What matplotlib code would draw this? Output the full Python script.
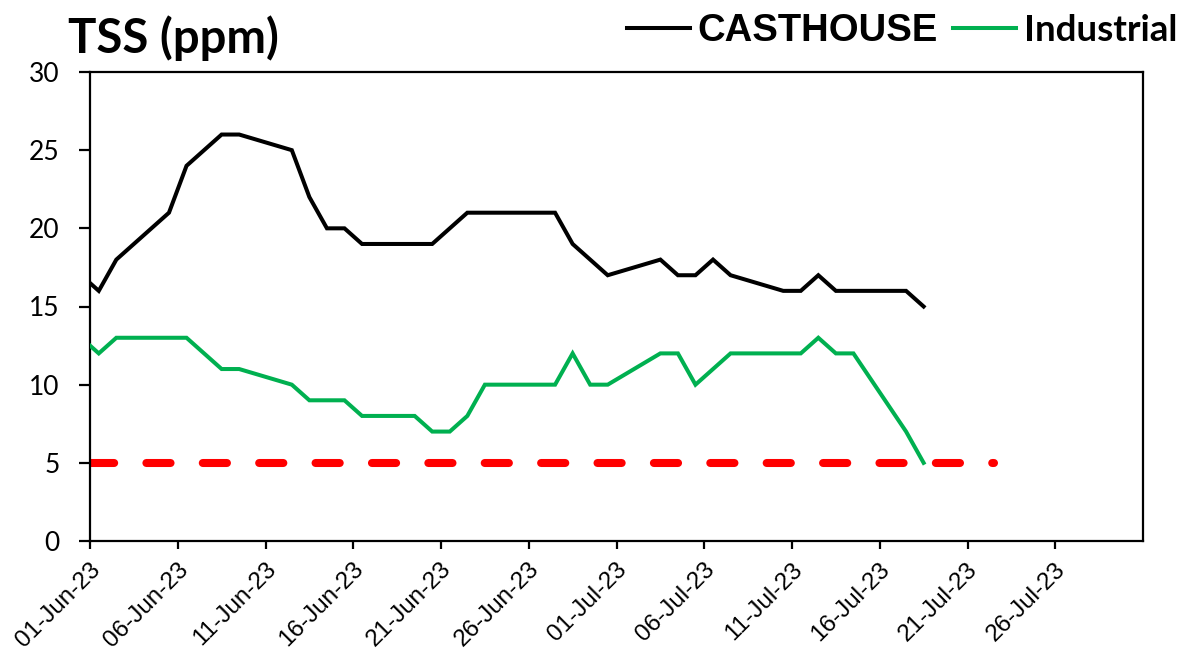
import matplotlib
matplotlib.use("Agg")
import matplotlib.pyplot as plt
import matplotlib.dates as mdates
from matplotlib.font_manager import FontProperties
import matplotlib.transforms as mtransforms
import pandas as pd

# ---- data ----
cast_dates = ["2023-05-31", "2023-06-01", "2023-06-02", "2023-06-03", "2023-06-04", "2023-06-05",
              "2023-06-06", "2023-06-07", "2023-06-08", "2023-06-09", "2023-06-12", "2023-06-13",
              "2023-06-14", "2023-06-15", "2023-06-16", "2023-06-17", "2023-06-18", "2023-06-19",
              "2023-06-20", "2023-06-21", "2023-06-22", "2023-06-23", "2023-06-24", "2023-06-25",
              "2023-06-26", "2023-06-27", "2023-06-28", "2023-06-29", "2023-06-30", "2023-07-03",
              "2023-07-04", "2023-07-05", "2023-07-06", "2023-07-07", "2023-07-10", "2023-07-11",
              "2023-07-12", "2023-07-13", "2023-07-14", "2023-07-15", "2023-07-16", "2023-07-17",
              "2023-07-18"]
cast_vals = [17, 16, 18, 19, 20, 21,
             24, 25, 26, 26, 25, 22,
             20, 20, 19, 19, 19, 19,
             19, 20, 21, 21, 21, 21,
             21, 21, 19, 18, 17, 18,
             17, 17, 18, 17, 16, 16,
             17, 16, 16, 16, 16, 16,
             15]

ind_dates = ["2023-05-31", "2023-06-01", "2023-06-02", "2023-06-03", "2023-06-04", "2023-06-05",
             "2023-06-06", "2023-06-07", "2023-06-08", "2023-06-09", "2023-06-12", "2023-06-13",
             "2023-06-14", "2023-06-15", "2023-06-16", "2023-06-17", "2023-06-18", "2023-06-19",
             "2023-06-20", "2023-06-21", "2023-06-22", "2023-06-23", "2023-06-24", "2023-06-25",
             "2023-06-26", "2023-06-27", "2023-06-28", "2023-06-29", "2023-06-30", "2023-07-03",
             "2023-07-04", "2023-07-05", "2023-07-06", "2023-07-07", "2023-07-08", "2023-07-09",
             "2023-07-10", "2023-07-11", "2023-07-12", "2023-07-13", "2023-07-14", "2023-07-17",
             "2023-07-18"]
ind_vals = [13, 12, 13, 13, 13, 13,
            13, 12, 11, 11, 10, 9,
            9, 9, 8, 8, 8, 8,
            7, 7, 8, 10, 10, 10,
            10, 10, 12, 10, 10, 12,
            12, 10, 11, 12, 12, 12,
            12, 12, 13, 12, 12, 7,
            5]

limit_dates = ["2023-06-01", "2023-07-22"]
limit_vals = [5, 5]
limit_start_hour = [0, 12]

x_ticks = pd.date_range("2023-06-01", "2023-07-26", freq="5D")
x_range = ["2023-06-01", "2023-07-31"]
y_ticks = [0, 5, 10, 15, 20, 25, 30]

# ---- figure ----
W, H = 1179, 653
fig = plt.figure(figsize=(W / 100, H / 100), dpi=100)
ax = fig.add_axes([90 / W, 1 - 541 / H, (1143 - 90) / W, (541 - 72) / H])

noon = pd.Timedelta(hours=12)
cx = pd.to_datetime(cast_dates) + noon
ix = pd.to_datetime(ind_dates) + noon
lx = pd.to_datetime(limit_dates) + pd.to_timedelta(limit_start_hour, unit="h")

ax.plot(lx, limit_vals, color="#FF0000", lw=5.8, linestyle=(0, (3.0, 4.0)),
        dash_capstyle="round", zorder=2)
ax.plot(cx, cast_vals, color="black", lw=2.9, solid_joinstyle="miter", label="CASTHOUSE", zorder=3)
ax.plot(ix, ind_vals, color="#00B050", lw=2.9, solid_joinstyle="miter", label="Industrial", zorder=3)

ax.set_xlim(pd.to_datetime(x_range[0]), pd.to_datetime(x_range[1]))
ax.set_ylim(0, 30)
ax.set_yticks(y_ticks)
ax.set_xticks(x_ticks)
ax.xaxis.set_major_formatter(mdates.DateFormatter("%d-%b-%y"))

for s in ax.spines.values():
    s.set_linewidth(1.6)
    s.set_color("black")

ax.tick_params(axis="y", direction="out", length=8, width=1.6, pad=14,
               labelsize=19, labelfontfamily="Lato")
ax.tick_params(axis="x", direction="out", length=6, width=1.6, pad=2,
               labelsize=17.5, labelfontfamily="Liberation Sans", labelrotation=45)

offset = mtransforms.ScaledTranslation(5 / 72, -10 / 72, fig.dpi_scale_trans)
for t in ax.get_xticklabels():
    t.set_ha("right")
    t.set_va("center")
    t.set_rotation_mode("anchor")
    t.set_transform(t.get_transform() + offset)

fig.text(68 / W, 1 - 53 / H, "TSS (ppm)", fontproperties=FontProperties(family="Lato", weight="bold", size=34),
         ha="left", va="baseline")

leg = ax.legend(loc="center right", bbox_to_anchor=(1177 / W, 1 - 31 / H), bbox_transform=fig.transFigure,
                ncol=2, frameon=False, borderaxespad=0, borderpad=0,
                prop=FontProperties(family="Liberation Sans", weight="bold", size=27.5),
                handlelength=1.65, handletextpad=0.2, columnspacing=0.4)
texts = leg.get_texts()
texts[1].set_fontproperties(FontProperties(family="Lato", weight="bold", size=26.5))

fig.savefig("out.png", dpi=100)
